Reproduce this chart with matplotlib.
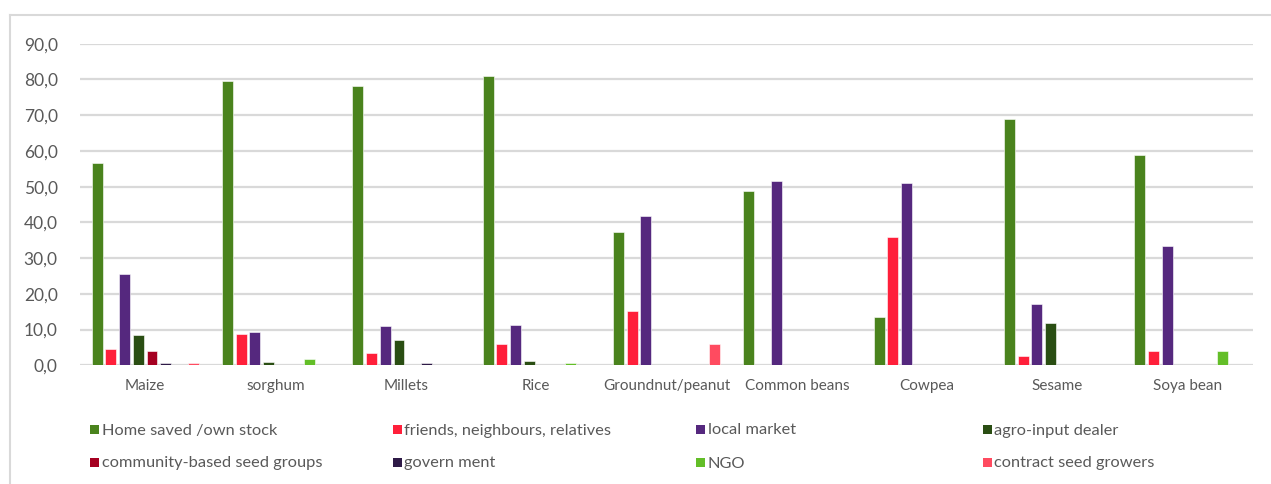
import matplotlib.pyplot as plt
import numpy as np
from matplotlib.patches import Rectangle
from matplotlib.lines import Line2D

plt.rcParams['font.family'] = ['Lato', 'DejaVu Sans']

crops = ["Maize", "sorghum", "Millets", "Rice", "Groundnut/peanut",
         "Common beans", "Cowpea", "Sesame", "Soya bean"]

sources = ["Home saved /own stock", "friends, neighbours, relatives", "local market",
           "agro-input dealer", "community-based seed groups", "govern ment",
           "NGO", "contract seed growers"]

home_saved = [56.5, 79.5, 78.1, 81.1, 37.4, 48.7, 13.5, 68.8, 58.8]
friends = [4.5, 8.7, 3.5, 6.1, 15.1, 0.0, 36.0, 2.6, 3.9]
local_market = [25.6, 9.4, 11.0, 11.4, 41.9, 51.5, 50.9, 17.2, 33.4]
agro_dealer = [8.5, 0.9, 7.1, 1.2, 0.0, 0.0, 0.0, 11.8, 0.0]
community = [3.9, 0.0, 0.0, 0.0, 0.0, 0.0, 0.0, 0.0, 0.0]
government = [0.7, 0.0, 0.7, 0.0, 0.0, 0.0, 0.0, 0.0, 0.0]
ngo = [0.0, 1.9, 0.0, 0.7, 0.0, 0.0, 0.0, 0.0, 3.9]
contract = [0.7, 0.0, 0.0, 0.0, 5.9, 0.0, 0.0, 0.0, 0.0]

series = [home_saved, friends, local_market, agro_dealer,
          community, government, ngo, contract]
colors = ["#4A831D", "#FF1F3A", "#55287E", "#2A4E13",
          "#A50021", "#2E1A47", "#63BE28", "#FF4B60"]

W, H = 1271, 484
fig = plt.figure(figsize=(W / 100, H / 100), dpi=100)
ax = fig.add_axes([80 / W, 1 - 365.3 / H, (1253 - 80) / W, (365.3 - 43.7) / H])

x = np.arange(len(crops))
pitch = 0.105
width = 0.084
for i, (vals, col) in enumerate(zip(series, colors)):
    v = np.array(vals, dtype=float)
    v[v == 0] = np.nan
    ax.bar(x + (i - 3.5) * pitch, v, width, color=col,
           edgecolor="white", linewidth=0.4, zorder=3)

ax.set_xlim(-0.5, len(crops) - 0.5)
ax.set_ylim(0, 90)
ax.set_yticks(np.arange(0, 91, 10))
ax.set_yticklabels([f"{t:.1f}".replace(".", ",") for t in np.arange(0, 91, 10)])
ax.set_xticks(x)
ax.set_xticklabels(crops)
ax.tick_params(axis="y", length=0, pad=16, labelsize=12.5, labelcolor="#595959")
ax.tick_params(axis="x", length=0, pad=10, labelsize=11, labelcolor="#595959")
ax.grid(axis="y", color="#D9D9D9", linewidth=1.6, zorder=0)
ax.set_axisbelow(True)
for s in ax.spines.values():
    s.set_visible(False)

# frame: left and top edges
fig.add_artist(Line2D([10 / W, 10 / W], [0, 1 - 15 / H], transform=fig.transFigure,
                      color="#D9D9D9", linewidth=1.5))
fig.add_artist(Line2D([10 / W, 1], [1 - 15 / H, 1 - 15 / H], transform=fig.transFigure,
                      color="#D9D9D9", linewidth=1.5))

# legend, two rows of four
col_x = [94.5, 397, 700.5, 987]
row_y = [429.5, 462.5]
order = [(0, 0), (0, 1), (0, 2), (0, 3), (1, 0), (1, 1), (1, 2), (1, 3)]
for label, col, (r, c) in zip(sources, colors, order):
    cx, cy = col_x[c], row_y[r]
    fig.add_artist(Rectangle(((cx - 4.5) / W, 1 - (cy + 4.5) / H), 9 / W, 9 / H,
                             transform=fig.transFigure, color=col, linewidth=0))
    fig.text((cx + 7) / W, 1 - (cy + 1) / H, label, ha="left", va="center",
             fontsize=11.8, color="#595959")

fig.savefig("out.png", dpi=100)
